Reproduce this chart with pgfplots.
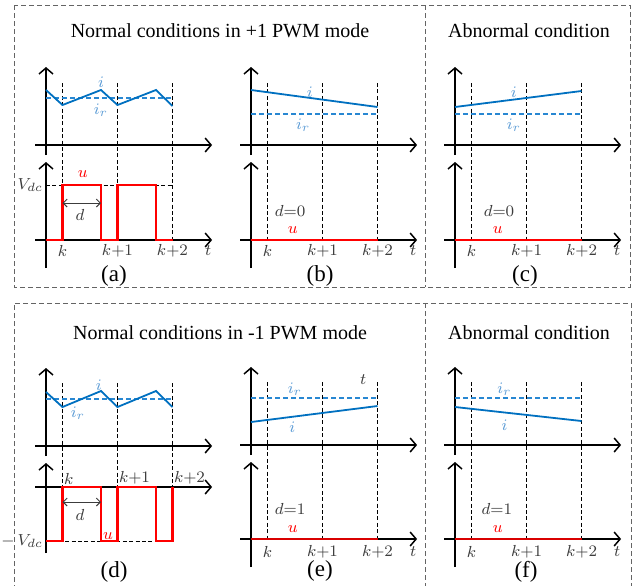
\documentclass[border=0pt]{standalone}
\usepackage{pgfplots}
\pgfplotsset{compat=1.18}
\usetikzlibrary{arrows.meta}
\usepackage{fontspec}
\setmainfont{Liberation Serif}

\definecolor{iblue}{RGB}{0,112,192}
\definecolor{rblue}{RGB}{40,135,210}
\definecolor{lblue}{RGB}{91,155,213}
\definecolor{ured}{RGB}{255,0,0}
\definecolor{boxgray}{RGB}{100,100,100}
\definecolor{txt}{RGB}{60,60,60}

\pgfplotsset{
  sub/.style={axis lines=middle, x=27.5pt, y=5pt, xmin=-0.2, xmax=3.02,
    ticks=none, clip=false, anchor=origin, enlargelimits=false,
    axis line style={line width=0.75pt,-{Straight Barb[length=3pt,width=7pt]}}},
  cur/.style={iblue, line width=0.9pt, mark=none},
  ref/.style={rblue, line width=0.6pt, dash pattern=on 2.5pt off 1.5pt, mark=none},
  volt/.style={ured, line width=1.1pt, mark=none},
  guide/.style={black, line width=0.5pt, dash pattern=on 2pt off 1.2pt, mark=none},
}
\tikzset{lbl/.style={font=\fontsize{8}{9}\selectfont, inner sep=0pt, text=txt},
  capt/.style={font=\fontsize{11.5}{13}\selectfont}}

\begin{document}
\begin{tikzpicture}[x=0.5pt, y=-0.5pt]
\path[use as bounding box] (0,0) rectangle (641,585);

% frames
\draw[boxgray, line width=0.4pt, dash pattern=on 2.5pt off 1.5pt] (14,5) rectangle (630,287);
\draw[boxgray, line width=0.4pt, dash pattern=on 2.5pt off 1.5pt] (425,5) -- (425,287);
\draw[boxgray, line width=0.4pt, dash pattern=on 2.5pt off 1.5pt] (14,590) -- (14,303) -- (631,303) -- (631,590);
\draw[boxgray, line width=0.4pt, dash pattern=on 2.5pt off 1.5pt] (425,303) -- (425,590);

\node[font=\fontsize{10}{12}\selectfont] at (220,31) {Normal conditions in +1 PWM mode};
\node[font=\fontsize{10}{12}\selectfont] at (529,31) {Abnormal condition};
\node[font=\fontsize{10}{12}\selectfont] at (220,333) {Normal conditions in -1 PWM mode};
\node[font=\fontsize{10}{12}\selectfont] at (529,333) {Abnormal condition};

\coordinate (a1) at (46,145);  \coordinate (a2) at (46,240);
\coordinate (b1) at (251,145); \coordinate (b2) at (251,240);
\coordinate (c1) at (455,145); \coordinate (c2) at (455,240);
\coordinate (d1) at (46,446);  \coordinate (d2) at (46,487);
\coordinate (e1) at (251,445); \coordinate (e2) at (251,539);
\coordinate (f1) at (455,445); \coordinate (f2) at (455,539);

% ---------- (a) ----------
\begin{axis}[sub, at={(a1)}, ymin=-1, ymax=7.8]
\addplot[guide] coordinates {(0.3,6.2) (0.3,-9.5)};
\addplot[guide] coordinates {(1.3,6.2) (1.3,-9.5)};
\addplot[guide] coordinates {(2.3,6.2) (2.3,-9.5)};
\addplot[ref] coordinates {(0,4.7) (2.3,4.7)};
\addplot[cur] coordinates {(0,5.5) (0.3,4.0) (1.0,5.5) (1.3,4.0) (2.0,5.5) (2.3,3.9)};
\node[lbl, text=lblue] at (axis cs:1.0,6.3) {$i$};
\node[lbl, text=lblue] at (axis cs:1.0,3.5) {$i_r$};
\end{axis}
\begin{axis}[sub, at={(a2)}, ymin=-2.8, ymax=7.8]
\addplot[guide] coordinates {(0,5.5) (2.3,5.5)};
\addplot[volt] coordinates {(0,0) (0.3,0) (0.3,5.5) (1.0,5.5) (1.0,0) (1.3,0) (1.3,5.5) (2.0,5.5) (2.0,0) (2.3,0)};
\draw[txt, line width=0.5pt, {Straight Barb[length=2pt,width=4pt]}-{Straight Barb[length=2pt,width=4pt]}] (axis cs:0.3,3.7) -- (axis cs:1.0,3.7);
\node[lbl] at (axis cs:0.62,2.5) {$d$};
\node[lbl, text=ured] at (axis cs:0.67,6.6) {$u$};
\node[lbl, anchor=east] at (axis cs:-0.05,5.5) {$V_{dc}$};
\node[lbl] at (axis cs:0.3,-1.1) {$k$};
\node[lbl] at (axis cs:1.3,-1.1) {$k{+}1$};
\node[lbl] at (axis cs:2.3,-1.1) {$k{+}2$};
\node[lbl] at (axis cs:2.95,-1.1) {$t$};
\end{axis}
\node[capt] at (114,276) {(a)};

% ---------- (b) ----------
\begin{axis}[sub, at={(b1)}, ymin=-1, ymax=7.8]
\addplot[guide] coordinates {(0.3,6.2) (0.3,-9.5)};
\addplot[guide] coordinates {(1.3,6.2) (1.3,-9.5)};
\addplot[guide] coordinates {(2.3,6.2) (2.3,-9.5)};
\addplot[ref] coordinates {(0,3.1) (2.3,3.1)};
\addplot[cur] coordinates {(0,5.5) (2.3,3.8)};
\node[lbl, text=lblue] at (axis cs:1.07,5.3) {$i$};
\node[lbl, text=lblue] at (axis cs:0.95,2.0) {$i_r$};
\end{axis}
\begin{axis}[sub, at={(b2)}, ymin=-2.8, ymax=7.8]
\addplot[volt] coordinates {(0,0) (2.3,0)};
\node[lbl] at (axis cs:0.71,2.9) {$d{=}0$};
\node[lbl, text=ured] at (axis cs:0.76,1.0) {$u$};
\node[lbl] at (axis cs:0.3,-1.1) {$k$};
\node[lbl] at (axis cs:1.3,-1.1) {$k{+}1$};
\node[lbl] at (axis cs:2.3,-1.1) {$k{+}2$};
\node[lbl] at (axis cs:2.95,-1.1) {$t$};
\end{axis}
\node[capt] at (320,276) {(b)};

% ---------- (c) ----------
\begin{axis}[sub, at={(c1)}, ymin=-1, ymax=7.8]
\addplot[guide] coordinates {(0.3,6.2) (0.3,-9.5)};
\addplot[guide] coordinates {(1.3,6.2) (1.3,-9.5)};
\addplot[guide] coordinates {(2.3,6.2) (2.3,-9.5)};
\addplot[ref] coordinates {(0,3.1) (2.3,3.1)};
\addplot[cur] coordinates {(0,3.8) (2.3,5.4)};
\node[lbl, text=lblue] at (axis cs:1.07,5.3) {$i$};
\node[lbl, text=lblue] at (axis cs:1.07,2.0) {$i_r$};
\end{axis}
\begin{axis}[sub, at={(c2)}, ymin=-2.8, ymax=7.8]
\addplot[volt] coordinates {(0,0) (2.3,0)};
\node[lbl] at (axis cs:0.8,2.9) {$d{=}0$};
\node[lbl, text=ured] at (axis cs:0.78,1.0) {$u$};
\node[lbl] at (axis cs:0.3,-1.1) {$k$};
\node[lbl] at (axis cs:1.3,-1.1) {$k{+}1$};
\node[lbl] at (axis cs:2.3,-1.1) {$k{+}2$};
\node[lbl] at (axis cs:2.95,-1.1) {$t$};
\end{axis}
\node[capt] at (525,276) {(c)};

% ---------- (d) ----------
\begin{axis}[sub, at={(d1)}, ymin=-1, ymax=7.8]
\addplot[guide] coordinates {(0.3,6.3) (0.3,-4.1)};
\addplot[guide] coordinates {(1.3,6.3) (1.3,-4.1)};
\addplot[guide] coordinates {(2.3,6.3) (2.3,-4.1)};
\addplot[ref] coordinates {(0,4.7) (2.3,4.7)};
\addplot[cur] coordinates {(0,5.4) (0.3,3.9) (1.0,5.5) (1.3,3.9) (2.0,5.5) (2.3,3.9)};
\node[lbl, text=lblue] at (axis cs:0.96,6.1) {$i$};
\node[lbl, text=lblue] at (axis cs:0.58,3.3) {$i_r$};
\end{axis}
\begin{axis}[sub, at={(d2)}, ymin=-6.6, ymax=2.4]
\addplot[guide] coordinates {(0,-5.4) (2.3,-5.4)};
\addplot[volt] coordinates {(0,-5.4) (0.3,-5.4) (0.3,0) (1.0,0) (1.0,-5.4) (1.3,-5.4) (1.3,0) (2.0,0) (2.0,-5.4) (2.3,-5.4) (2.3,0)};
\draw[txt, line width=0.5pt, {Straight Barb[length=2pt,width=4pt]}-{Straight Barb[length=2pt,width=4pt]}] (axis cs:0.3,-1.5) -- (axis cs:1.0,-1.5);
\node[lbl] at (axis cs:0.62,-2.8) {$d$};
\node[lbl, text=ured] at (axis cs:1.13,-4.9) {$u$};
\node[lbl, anchor=east] at (axis cs:-0.05,-5.4) {$-\,V_{dc}$};
\node[lbl, anchor=south west] at (axis cs:0.32,0.25) {$k$};
\node[lbl, anchor=south west] at (axis cs:1.32,0.25) {$k{+}1$};
\node[lbl, anchor=south west] at (axis cs:2.32,0.25) {$k{+}2$};
\end{axis}
\node[capt] at (114,572) {(d)};

% ---------- (e) ----------
\begin{axis}[sub, at={(e1)}, ymin=-1, ymax=7.8]
\addplot[guide] coordinates {(0.3,6.3) (0.3,-9.4)};
\addplot[guide] coordinates {(1.3,6.3) (1.3,-9.4)};
\addplot[guide] coordinates {(2.3,6.3) (2.3,-9.4)};
\addplot[ref] coordinates {(0,4.7) (2.3,4.7)};
\addplot[cur] coordinates {(0,2.3) (2.3,3.9)};
\node[lbl, text=lblue] at (axis cs:0.8,5.6) {$i_r$};
\node[lbl, text=lblue] at (axis cs:0.75,1.8) {$i$};
\node[lbl] at (axis cs:2.04,6.5) {$t$};
\end{axis}
\begin{axis}[sub, at={(e2)}, ymin=-2.8, ymax=7.7]
\addplot[volt, ured!85!black] coordinates {(0,0) (2.3,0)};
\node[lbl] at (axis cs:0.71,3.0) {$d{=}1$};
\node[lbl, text=ured] at (axis cs:0.76,1.0) {$u$};
\node[lbl] at (axis cs:0.3,-1.3) {$k$};
\node[lbl] at (axis cs:1.3,-1.3) {$k{+}1$};
\node[lbl] at (axis cs:2.3,-1.3) {$k{+}2$};
\node[lbl] at (axis cs:2.95,-1.3) {$t$};
\end{axis}
\node[capt] at (320,571) {(e)};

% ---------- (f) ----------
\begin{axis}[sub, at={(f1)}, ymin=-1, ymax=7.8]
\addplot[guide] coordinates {(0.3,6.3) (0.3,-9.4)};
\addplot[guide] coordinates {(1.3,6.3) (1.3,-9.4)};
\addplot[guide] coordinates {(2.3,6.3) (2.3,-9.4)};
\addplot[ref] coordinates {(0,4.7) (2.3,4.7)};
\addplot[cur] coordinates {(0,3.8) (2.3,2.4)};
\node[lbl, text=lblue] at (axis cs:0.9,5.6) {$i_r$};
\node[lbl, text=lblue] at (axis cs:0.9,2.0) {$i$};
\end{axis}
\begin{axis}[sub, at={(f2)}, ymin=-2.8, ymax=7.7]
\addplot[volt, ured!85!black] coordinates {(0,0) (2.3,0)};
\node[lbl] at (axis cs:0.76,3.0) {$d{=}1$};
\node[lbl, text=ured] at (axis cs:0.78,1.0) {$u$};
\node[lbl] at (axis cs:0.3,-1.3) {$k$};
\node[lbl] at (axis cs:1.3,-1.3) {$k{+}1$};
\node[lbl] at (axis cs:2.3,-1.3) {$k{+}2$};
\node[lbl] at (axis cs:2.95,-1.3) {$t$};
\end{axis}
\node[capt] at (526,572) {(f)};

\end{tikzpicture}
\end{document}
